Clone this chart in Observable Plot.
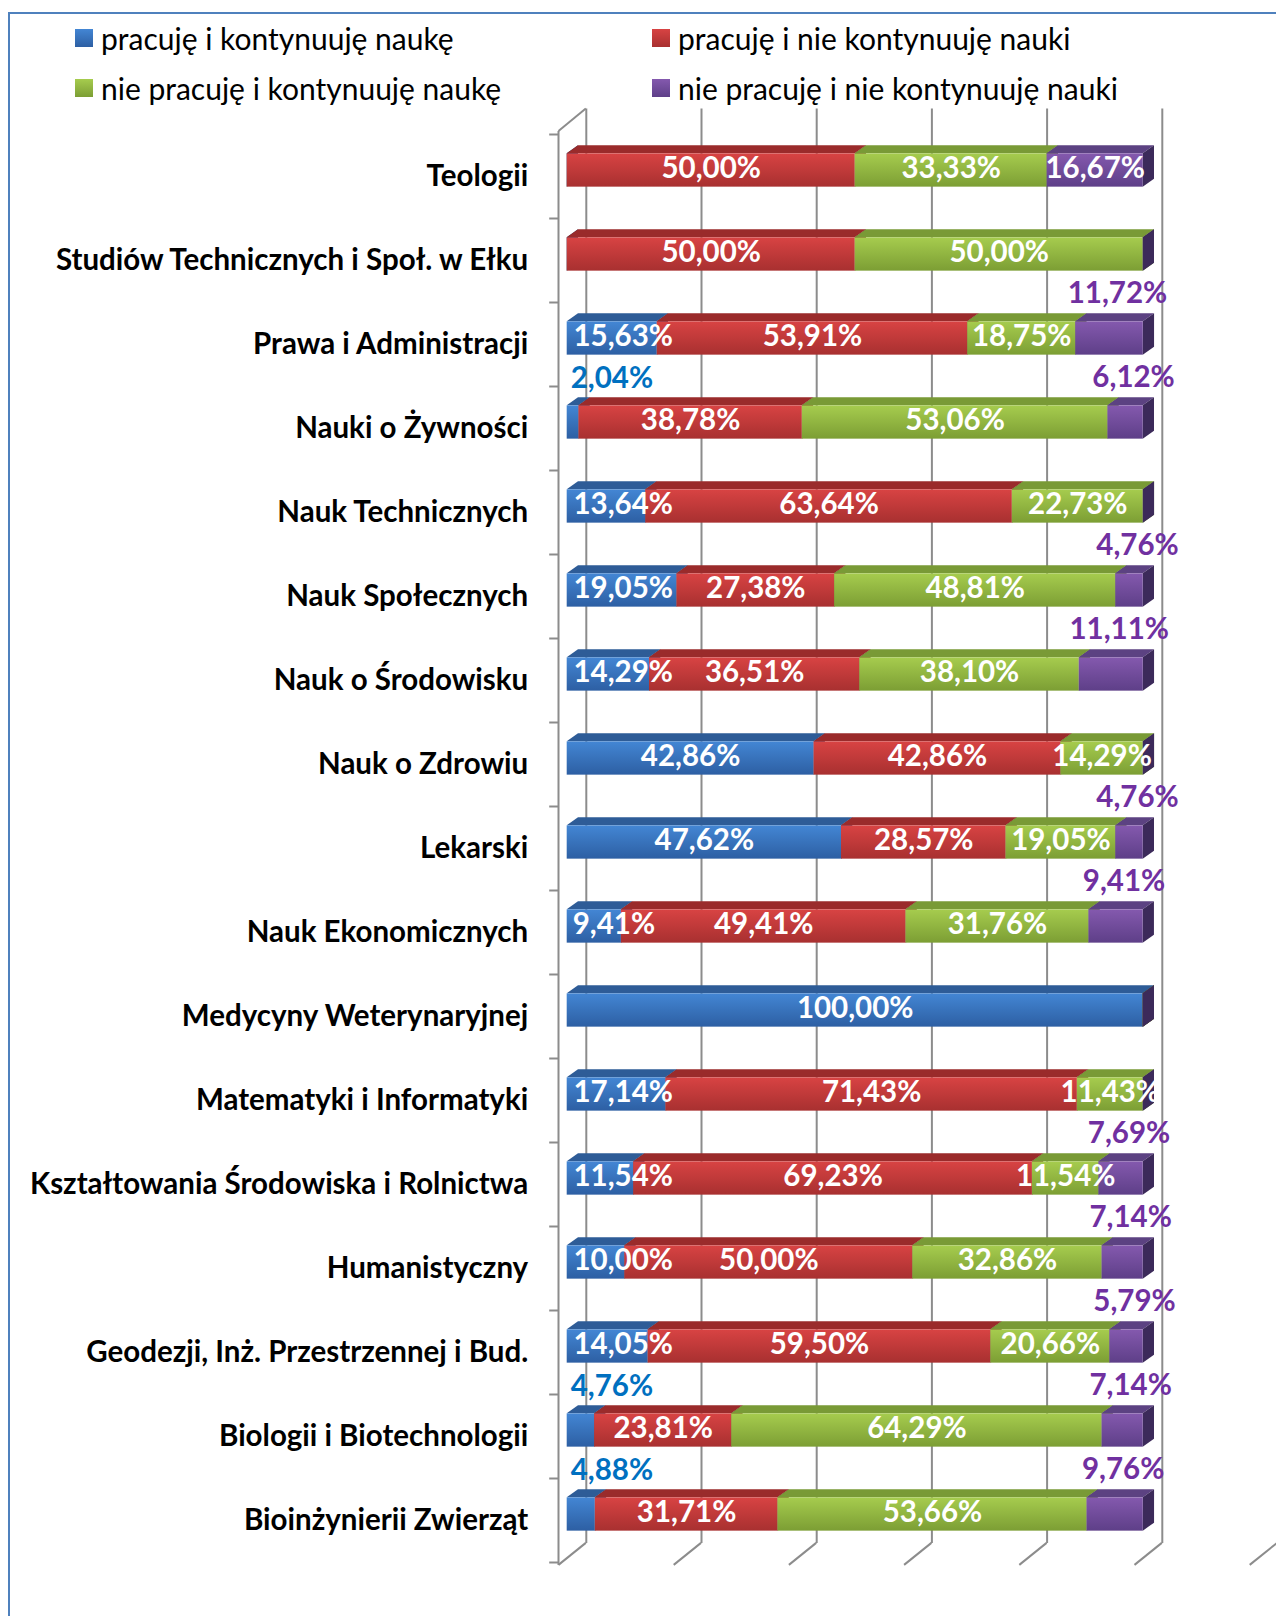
<!DOCTYPE html>
<html><head><meta charset="utf-8">
<script src="https://cdn.jsdelivr.net/npm/d3@7"></script>
<script src="https://cdn.jsdelivr.net/npm/@observablehq/plot@0.6"></script>
<style>
html,body{margin:0;padding:0;background:#fff;width:1276px;height:1616px;overflow:hidden;}
#wrap{position:relative;width:1276px;height:1616px;overflow:hidden;}
#frame{position:absolute;left:8px;top:12px;width:1400px;height:1700px;border-top:2px solid #4F81BD;border-left:2px solid #4F81BD;}
#legend{position:absolute;left:0;top:0;width:1276px;height:110px;font-family:Lato,"Open Sans",sans-serif;font-size:30px;color:#000;}
.item{position:absolute;display:flex;align-items:center;height:40px;white-space:nowrap;}
.sw{width:18px;height:18px;margin-right:8px;flex:none;}
#chart{position:absolute;left:0;top:0;}
</style></head>
<body>
<div id="wrap">
  <div id="frame"></div>
  <div id="legend"></div>
  <div id="chart"></div>
</div>
<script>
const categories = [
  "Teologii",
  "Studiów Technicznych i Społ. w Ełku",
  "Prawa i Administracji",
  "Nauki o Żywności",
  "Nauk Technicznych",
  "Nauk Społecznych",
  "Nauk o Środowisku",
  "Nauk o Zdrowiu",
  "Lekarski",
  "Nauk Ekonomicznych",
  "Medycyny Weterynaryjnej",
  "Matematyki i Informatyki",
  "Kształtowania Środowiska i Rolnictwa",
  "Humanistyczny",
  "Geodezji, Inż. Przestrzennej i Bud.",
  "Biologii i Biotechnologii",
  "Bioinżynierii Zwierząt"
];
const seriesNames = [
  "pracuję i kontynuuję naukę",
  "pracuję i nie kontynuuję nauki",
  "nie pracuję i kontynuuję naukę",
  "nie pracuję i nie kontynuuję nauki"
];
const pracujeKontynuuje    = [0, 0, 15.63, 2.04, 13.64, 19.05, 14.29, 42.86, 47.62, 9.41, 100, 17.14, 11.54, 10.00, 14.05, 4.76, 4.88];
const pracujeNieKontynuuje = [50, 50, 53.91, 38.78, 63.64, 27.38, 36.51, 42.86, 28.57, 49.41, 0, 71.43, 69.23, 50.00, 59.50, 23.81, 31.71];
const niePracujeKontynuuje = [33.33, 50, 18.75, 53.06, 22.73, 48.81, 38.10, 14.29, 19.05, 31.76, 0, 11.43, 11.54, 32.86, 20.66, 64.29, 53.66];
const niePracujeNie        = [16.67, 0, 11.72, 6.12, 0, 4.76, 11.11, 0, 4.76, 9.41, 0, 0, 7.69, 7.14, 5.79, 7.14, 9.76];
const xTicks = [0, 20, 40, 60, 80, 100, 120];

// colours: front gradient top/bottom, top face, side face
const palette = [
  {id: "g0", top: "#4386D4", bottom: "#2D5FA3", face: "#2E5C97", side: "#1F406D", label: "#0070C0"},
  {id: "g1", top: "#D84343", bottom: "#A83030", face: "#9A2B2B", side: "#6B1E1E", label: "#C0504D"},
  {id: "g2", top: "#A6CC4E", bottom: "#7C9E34", face: "#799A36", side: "#55701F", label: "#9BBB59"},
  {id: "g3", top: "#8459AE", bottom: "#5E3F88", face: "#5C4282", side: "#3C2A5A", label: "#7030A0"}
];

// legend
const legend = document.getElementById("legend");
const legPos = [[75, 18], [652, 18], [75, 68], [652, 68]];
seriesNames.forEach((name, s) => {
  const it = document.createElement("div");
  it.className = "item";
  it.style.left = legPos[s][0] + "px";
  it.style.top = legPos[s][1] + "px";
  const sw = document.createElement("div");
  sw.className = "sw";
  sw.style.background = `linear-gradient(${palette[s].top}, ${palette[s].bottom})`;
  const tx = document.createElement("span");
  tx.textContent = name;
  it.appendChild(sw); it.appendChild(tx);
  legend.appendChild(it);
});

const seriesValues = [pracujeKontynuuje, pracujeNieKontynuuje, niePracujeKontynuuje, niePracujeNie];
const segments = [];
categories.forEach((cat, i) => {
  let acc = 0;
  seriesValues.forEach((vals, s) => {
    const v = vals[i];
    segments.push({cat, series: s, value: v, x1: acc, x2: acc + v});
    acc += v;
  });
});
const fmt = d => d.value.toFixed(2).replace(".", ",") + "%";
const isOutside = d => (d.series === 0 && d.value < 5) || (d.series === 3 && d.value < 12);
const labelX = d => {
  const mid = (d.x1 + d.x2) / 2;
  return d.series === 0 ? Math.max(mid, 1.62 * fmt(d).length) : mid;
};

const BAR_H = 33.3, DX = 11.3, DY = -8;
function box3d(s) {
  const p = palette[s];
  return (index, scales, values) => {
    const g = d3.create("svg:g");
    if (s === 0) {
      const defs = g.append("defs");
      palette.forEach(q => {
        const lg = defs.append("linearGradient").attr("id", q.id).attr("x1", 0).attr("y1", 0).attr("x2", 0).attr("y2", 1);
        lg.append("stop").attr("offset", "0%").attr("stop-color", q.top);
        lg.append("stop").attr("offset", "100%").attr("stop-color", q.bottom);
      });
    }
    for (const i of index) {
      const xa = values.x1[i], xb = values.x2[i], yc = values.y1[i];
      const t = yc - BAR_H / 2, b = yc + BAR_H / 2;
      g.append("path").attr("d", `M${xa},${t}L${xa + DX},${t + DY}L${xb + DX},${t + DY}L${xb},${t}Z`).attr("fill", p.face);
      g.append("path").attr("d", `M${xb},${t}L${xb + DX},${t + DY}L${xb + DX},${b + DY}L${xb},${b}Z`).attr("fill", p.side);
      if (xb > xa) g.append("rect").attr("x", xa).attr("y", t).attr("width", xb - xa).attr("height", BAR_H).attr("fill", `url(#${p.id})`);
    }
    return g.node();
  };
}

const GRID = "#8c8c8c";
function wallRender(index, scales, values, dims) {
  const g = d3.create("svg:g").attr("stroke", GRID).attr("stroke-width", 2).attr("fill", "none");
  const top = dims.marginTop, bottom = dims.height - dims.marginBottom;
  for (const i of index) {
    const x = values.x[i];
    g.append("line").attr("x1", x - 8.2).attr("y1", bottom + 6).attr("x2", x + 19.1).attr("y2", bottom - 16);
  }
  const x0 = scales.x(0);
  g.append("line").attr("x1", x0 - 8.2).attr("y1", top + 6.5).attr("x2", x0 - 8.2).attr("y2", bottom + 6);
  g.append("line").attr("x1", x0 - 8.2).attr("y1", top + 6.5).attr("x2", x0 + 19.1).attr("y2", top - 16);
  const step = scales.y(categories[1]) - scales.y(categories[0]);
  for (let k = 0; k <= categories.length; k++) {
    const yb = scales.y(categories[0]) - step / 2 + k * step + 6.5;
    g.append("line").attr("x1", x0 - 17.5).attr("y1", yb).attr("x2", x0 - 8.2).attr("y2", yb);
  }
  return g.node();
}

const chart = Plot.plot({
  width: 1276,
  height: 1616,
  marginLeft: 566.7,
  marginRight: 133.3,
  marginTop: 124.5,
  marginBottom: 57.1,
  style: {fontFamily: "Lato, 'Open Sans', sans-serif", background: "transparent", overflow: "visible"},
  x: {domain: [0, 100], axis: null},
  y: {type: "point", domain: categories, padding: 0.5, axis: null},
  marks: [
    Plot.ruleX(xTicks.filter(t => t <= 100), {dx: 19.1, dy: -16, stroke: GRID, strokeWidth: 2}),
    Plot.ruleX(xTicks, {render: wallRender}),
    ...[0, 1, 2, 3].map(s => Plot.link(segments.filter(d => d.series === s), {x1: "x1", x2: "x2", y: "cat", render: box3d(s)})),
    Plot.text(segments.filter(d => d.value > 0 && !isOutside(d)), {
      x: labelX, y: "cat", text: fmt, fill: "white", fontSize: 29.5, fontWeight: "bold", dy: -2
    }),
    Plot.text(segments.filter(d => d.value > 0 && isOutside(d) && d.series === 0), {
      x: labelX, y: "cat", text: fmt, fill: palette[0].label, fontSize: 29.5, fontWeight: "bold", dx: -2, dy: -44
    }),
    Plot.text(segments.filter(d => d.value > 0 && isOutside(d) && d.series === 3), {
      x: d => (d.x1 + d.x2) / 2, y: "cat", text: fmt, fill: palette[3].label, fontSize: 29.5, fontWeight: "bold", dx: 8, dy: -45
    }),
    Plot.text(categories, {
      frameAnchor: "left", y: d => d, text: d => d, textAnchor: "end", dx: -39, dy: 6,
      fontSize: 29.5, fontWeight: "bold", fill: "#000"
    })
  ]
});
document.getElementById("chart").appendChild(chart);
</script>
</body></html>
